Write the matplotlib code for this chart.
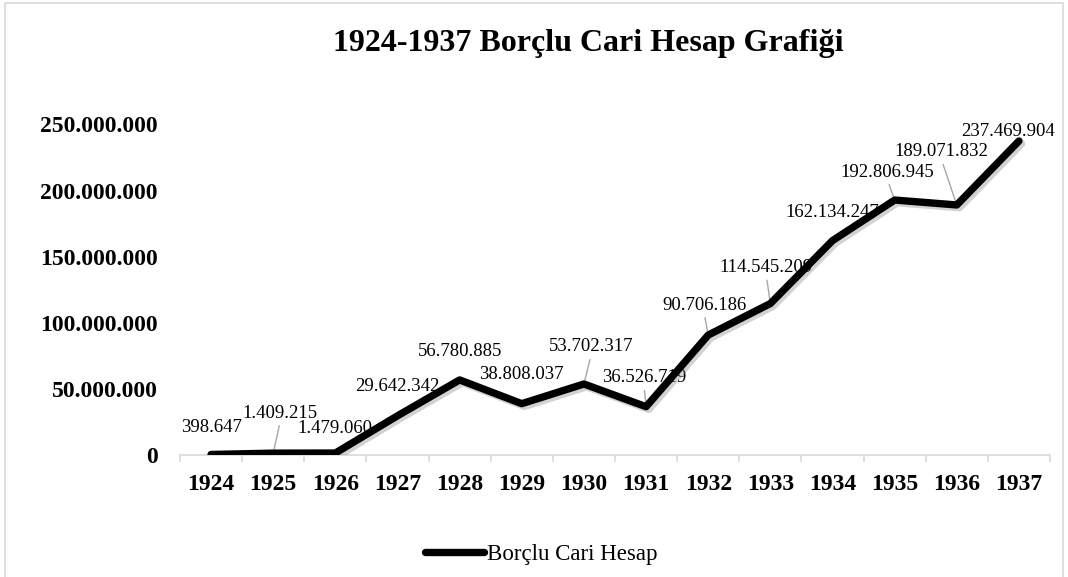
import matplotlib
matplotlib.use("Agg")
import matplotlib.pyplot as plt
import matplotlib.patheffects as pe
from matplotlib.patches import Rectangle
from matplotlib.ticker import FuncFormatter, MultipleLocator

plt.rcParams["font.family"] = ["Liberation Serif", "DejaVu Serif"]

years = ["1924", "1925", "1926", "1927", "1928", "1929", "1930",
         "1931", "1932", "1933", "1934", "1935", "1936", "1937"]
values = [398647, 1409215, 1479060, 29642342, 56780885, 38808037, 53702317,
          36526719, 90706186, 114545209, 162134247, 192806945, 189071832, 237469904]
series_name = "Borçlu Cari Hesap"
title = "1924-1937 Borçlu Cari Hesap Grafiği"

# label offsets in pixels (dx, dy) and whether a leader line is drawn
label_offsets = [(0, 27), (7, 40), (0, 25), (0, 29), (0, 28), (0, 29), (7, 37),
                 (-2, 29), (-4, 30), (-4, 36), (0, 28), (-7, 28), (-15, 53), (-11, 9)]
leaders = [False, True, False, False, False, False, True,
           True, True, True, False, True, True, False]


def dotted(v, pos=None):
    return f"{int(round(v)):,}".replace(",", ".")


fig = plt.figure(figsize=(10.68, 5.77), dpi=100)
ax = fig.add_axes([180 / 1068, 1 - 455 / 577, 870 / 1068, (455 - 124.4) / 577])

x = list(range(len(years)))
ax.plot(x, values, color="black", lw=5.3, solid_capstyle="round",
        solid_joinstyle="round", zorder=4,
        path_effects=[pe.SimpleLineShadow(offset=(2, -2), shadow_color="gray", alpha=0.35),
                      pe.Normal()])

for i, v in enumerate(values):
    dx, dy = label_offsets[i]
    props = None
    if leaders[i]:
        props = dict(arrowstyle="-", color="#a6a6a6", lw=1, shrinkA=1, shrinkB=3,
                     relpos=(0.5, 0))
    ax.annotate(dotted(v), xy=(i, v), xytext=(dx, dy), textcoords="offset pixels",
                ha="center", va="center", fontsize=13.5, color="black",
                arrowprops=props, zorder=3)

ax.set_xlim(-0.5, len(years) - 0.5)
ax.set_ylim(0, 250000000)
ax.yaxis.set_major_locator(MultipleLocator(50000000))
ax.yaxis.set_major_formatter(FuncFormatter(dotted))
ax.set_xticks(x)
ax.set_xticklabels(years)
ax.set_xticks([i - 0.5 for i in range(len(years) + 1)], minor=True)

for s in ["top", "right", "left"]:
    ax.spines[s].set_visible(False)
ax.spines["bottom"].set_color("#d9d9d9")
ax.spines["bottom"].set_linewidth(1.2)

ax.tick_params(axis="x", which="major", length=0, pad=14)
ax.tick_params(axis="x", which="minor", length=5, color="#d9d9d9", width=1.2)
ax.tick_params(axis="y", length=0, pad=16)
for lab in ax.get_xticklabels() + ax.get_yticklabels():
    lab.set_fontweight("bold")
    lab.set_fontsize(17)

fig.text(588 / 1068, 1 - 44 / 577, title, ha="center", va="center",
         fontsize=23, fontweight="bold")

handle = plt.Line2D([], [], color="black", lw=5.3, solid_capstyle="round")
fig.legend([handle], [series_name], loc="center", bbox_to_anchor=(541 / 1068, 1 - 554 / 577),
           frameon=False, fontsize=16.5, handlelength=2.6, handletextpad=0.1)

fig.patches.append(Rectangle((5 / 1068, -0.05), 1058 / 1068, 1.05 - 3 / 577,
                             transform=fig.transFigure, fill=False,
                             edgecolor="#d9d9d9", lw=1.2))

fig.savefig("out.png", dpi=100)
